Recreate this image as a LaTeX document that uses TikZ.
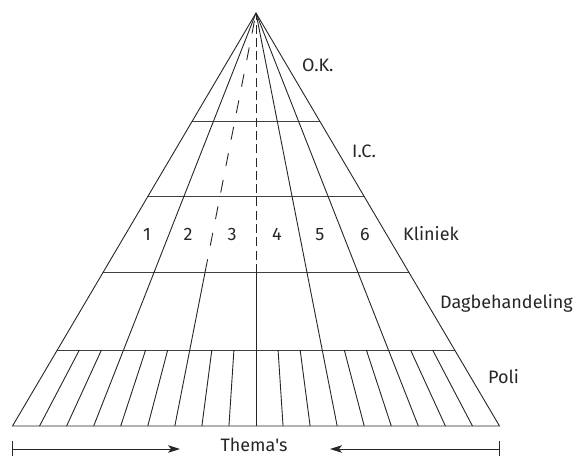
\documentclass[tikz,border=0pt]{standalone}
\usepackage{fontspec}
\setmainfont{Fira Sans}[Ligatures=TeXOff]
\usetikzlibrary{calc,arrows.meta}
\begin{document}
\begin{tikzpicture}[x=1pt,y=-1pt,
  edge/.style={line width=0.9pt,draw=black!85},
  floor/.style={line width=1pt,draw=black!75},
  dashray/.style={edge,dash pattern=on 13pt off 14pt,dash phase=19pt},
  dashaxis/.style={edge,dash pattern=on 9pt off 4.3pt},
  lbl/.style={inner sep=0pt,anchor=base west,font=\fontsize{18}{20}\selectfont,text=black!85},
  num/.style={inner sep=0pt,anchor=base,font=\fontsize{18}{20}\selectfont,text=black!85},
  tip/.style={-{Stealth[length=12pt,width=7.5pt,inset=3pt]}}
]
\useasboundingbox (0,0) rectangle (583,456);
% apex and base corners of the pyramid
\coordinate (A) at (256,13);
\coordinate (BL) at (12.5,426);
\coordinate (BR) at (499.5,426);
% base divided into 18 equal parts
\foreach \k in {0,...,18}{
  \pgfmathsetmacro{\f}{\k/18}
  \coordinate (P\k) at ($(BL)!\f!(BR)$);
}
% floors
\foreach \t [count=\i] in {0.2639,0.4455,0.6295,0.8160}{
  \coordinate (L\i) at ($(A)!\t!(BL)$);
  \coordinate (R\i) at ($(A)!\t!(BR)$);
  \draw[floor] (L\i) -- (R\i);
}
% outline
\draw[edge,line join=miter] (BL) -- (A) -- (BR) -- cycle;
% full rays
\foreach \k in {3,12,15}{
  \draw[edge] (A) -- (P\k);
}
% rays dashed down to the day-care floor
\coordinate (D6) at ($(A)!0.6295!(P6)$);
\coordinate (D9) at ($(A)!0.6295!(P9)$);
\draw[dashray] (A) -- (D6);
\draw[edge] (D6) -- (P6);
\draw[dashaxis] (D9) -- (A);
\draw[edge] (D9) -- (P9);
% outpatient columns
\foreach \k in {1,2,4,5,7,8,10,11,13,14,16,17}{
  \draw[edge] ($(A)!0.8160!(P\k)$) -- (P\k);
}
% level labels
\node[lbl] (ok) at (302,71) {O.K.};
\node[lbl] (ic) at (352,157) {I.C.};
\node[lbl] (kl) at (403,240) {Kliniek};
\node[lbl] (db) at (440,308) {Dagbehandeling};
\node[lbl] (po) at (488,383) {Poli};
% ward numbers
\foreach \n/\x in {1/147,2/188,3/232,4/277,5/320,6/365}{
  \node[num] (n\n) at (\x,240) {\n};
}
% themes axis
\node[num] (th) at (254,451.5) {Thema's};
\coordinate (la) at (12.5,449);
\coordinate (lb) at (180,449);
\coordinate (ra) at (499.5,449);
\coordinate (rb) at (330,449);
\draw[edge] (12.5,441) -- (12.5,456);
\draw[edge] (499.5,441) -- (499.5,456);
\draw[edge,tip] (la) -- (lb);
\draw[edge,tip] (ra) -- (rb);
\end{tikzpicture}
\end{document}
